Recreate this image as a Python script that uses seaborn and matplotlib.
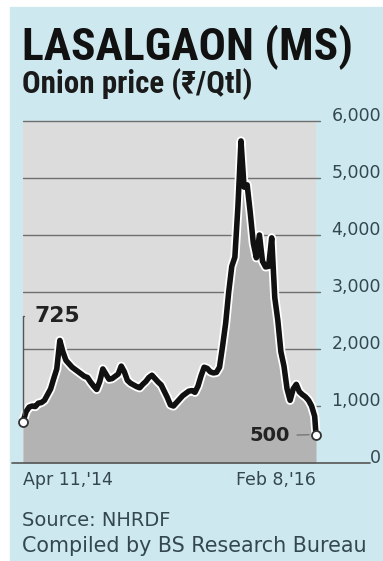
import matplotlib
matplotlib.use("Agg")
import matplotlib.pyplot as plt
import matplotlib.patheffects as pe
import matplotlib.font_manager as fm
from matplotlib.patches import Rectangle
import pandas as pd
import seaborn as sns

# ---------------- data ----------------
title = "LASALGAON (MS)"
subtitle = "Onion price (₹/Qtl)"
source_lines = ["Source: NHRDF", "Compiled by BS Research Bureau"]
start_date = "2014-04-11"
end_date = "2016-02-08"
weekly_prices = [725, 900, 980, 1000, 990, 1050, 1060, 1100, 1200, 1300,
                 1480, 1650, 2150, 1950, 1800, 1740, 1680, 1640, 1600, 1560,
                 1520, 1500, 1420, 1350, 1290, 1430, 1650, 1560, 1470, 1480,
                 1520, 1560, 1700, 1600, 1450, 1400, 1370, 1340, 1320, 1380,
                 1430, 1500, 1540, 1480, 1420, 1370, 1260, 1150, 1020, 1000,
                 1060, 1120, 1180, 1220, 1260, 1270, 1240, 1350, 1530, 1680,
                 1660, 1600, 1580, 1590, 1680, 2050, 2450, 3000, 3450, 3610,
                 4500, 5650, 4840, 4880, 4400, 3860, 3600, 4000, 3540, 3440,
                 3450, 3950, 2900, 2500, 1950, 1700, 1300, 1100, 1300, 1380,
                 1250, 1200, 1160, 1100, 1000, 820]
final_price = 500
start_label = "725"
end_label = "500"
y_ticks = [0, 1000, 2000, 3000, 4000, 5000, 6000]
y_tick_labels = ["0", "1,000", "2,000", "3,000", "4,000", "5,000", "6,000"]
x_tick_labels = ["Apr 11,'14", "Feb 8,'16"]

dates = list(pd.date_range(start_date, periods=len(weekly_prices), freq="7D")) + [pd.Timestamp(end_date)]
prices = weekly_prices + [final_price]
df = pd.DataFrame({"date": dates, "price": prices})

# ---------------- style ----------------
sns.set_style("white")
names = {f.name for f in fm.fontManager.ttflist}
cond = "DejaVu Sans"
for cand in ["Roboto Condensed", "Open Sans Condensed", "Noto Sans Condensed",
             "Liberation Sans Narrow", "Noto Sans", "DejaVu Sans"]:
    if cand in names:
        cond = cand
        break
plt.rcParams["font.family"] = ["DejaVu Sans"]

BLUE = "#cde8ef"
PLOT_BG = "#dcdcdc"
FILL = "#b3b3b3"
GRID = "#6f6f6f"
TXT = "#34474f"

W, H = 383, 561
fig = plt.figure(figsize=(W / 100, H / 100), dpi=100)
fig.patch.set_facecolor("white")
fig.patches.append(Rectangle((10 / W, 0), (W - 10) / W, (H - 7) / H,
                             transform=fig.transFigure, color=BLUE, zorder=-10))

ax = fig.add_axes([23 / W, (H - 463) / H, 293 / W, 342 / H])
ax.set_facecolor(PLOT_BG)
for s in ax.spines.values():
    s.set_visible(False)

ax.fill_between(df["date"], df["price"], color=FILL, lw=0, zorder=2)
sns.lineplot(data=df, x="date", y="price", ax=ax, color="#111111", lw=4.0, zorder=4,
             clip_on=False,
             path_effects=[pe.Stroke(linewidth=6.6, foreground="white"), pe.Normal()])
ax.scatter([dates[0], dates[-1]], [prices[0], prices[-1]], s=42, facecolor="white",
           edgecolor="#333333", linewidth=1.3, zorder=6, clip_on=False)

ax.set_xlim(dates[0], dates[-1])
ax.set_ylim(0, 6000)
ax.set_xlabel("")
ax.set_ylabel("")

for y in y_ticks[1:]:
    ax.axhline(y, xmin=0, xmax=1 + 4 / 293, color=GRID, lw=1, zorder=1.5, clip_on=False)
ax.axhline(0, xmin=-11 / 293, xmax=(370 - 23) / 293, color="#555555", lw=1.2,
           zorder=3, clip_on=False)

ax.yaxis.tick_right()
ax.set_yticks(y_ticks, y_tick_labels)
ax.tick_params(axis="y", length=0, pad=(381 - 316) * 0.72, labelsize=12.5, labelcolor=TXT)
for lab in ax.get_yticklabels():
    lab.set_ha("right")
    lab.set_va("baseline")
ax.set_xticks([dates[0], dates[-1]], x_tick_labels)
ax.tick_params(axis="x", length=0, pad=6, labelsize=12.5, labelcolor=TXT)
xl = ax.get_xticklabels()
xl[0].set_ha("left")
xl[1].set_ha("right")

a1 = ax.annotate(start_label, xy=(dates[0], prices[0]), xytext=(8, 72),
                 textcoords="offset points", ha="left", va="baseline",
                 fontsize=19, fontweight="bold", color="#222222", family=["DejaVu Sans"],
                 arrowprops=dict(arrowstyle="-", color="#555555", lw=1,
                                 connectionstyle="angle,angleA=0,angleB=90,rad=0",
                                 shrinkA=5, shrinkB=5), zorder=7)
a2 = ax.annotate(end_label, xy=(dates[-1], prices[-1]), xytext=(-19, -1),
                 textcoords="offset points", ha="right", va="center",
                 fontsize=19, fontweight="bold", color="#222222", family=["DejaVu Sans"],
                 arrowprops=dict(arrowstyle="-", color="#777777", lw=1,
                                 shrinkA=3, shrinkB=5), zorder=7)

t1 = fig.text(22 / W, (H - 60) / H, title, fontsize=40, fontweight="bold",
              color="#111111", family=[cond, "DejaVu Sans"], va="baseline")
t2 = fig.text(22 / W, (H - 93) / H, subtitle, fontsize=20, fontweight="semibold",
              color="#1a1a1a", family=[cond, "DejaVu Sans"], va="baseline")
s1 = fig.text(22 / W, (H - 526) / H, source_lines[0], fontsize=13, color=TXT, va="baseline")
s2 = fig.text(22 / W, (H - 552) / H, source_lines[1], fontsize=13, color=TXT, va="baseline")

fig.canvas.draw()
r = fig.canvas.get_renderer()
for t, target in [(t1, 330), (t2, 230), (s1, 148), (s2, 343), (a1, 55), (a2, 55)]:
    w = t.get_window_extent(renderer=r).width
    t.set_fontsize(t.get_fontsize() * target / w)

fig.savefig("out.png", dpi=100, facecolor=fig.get_facecolor())
